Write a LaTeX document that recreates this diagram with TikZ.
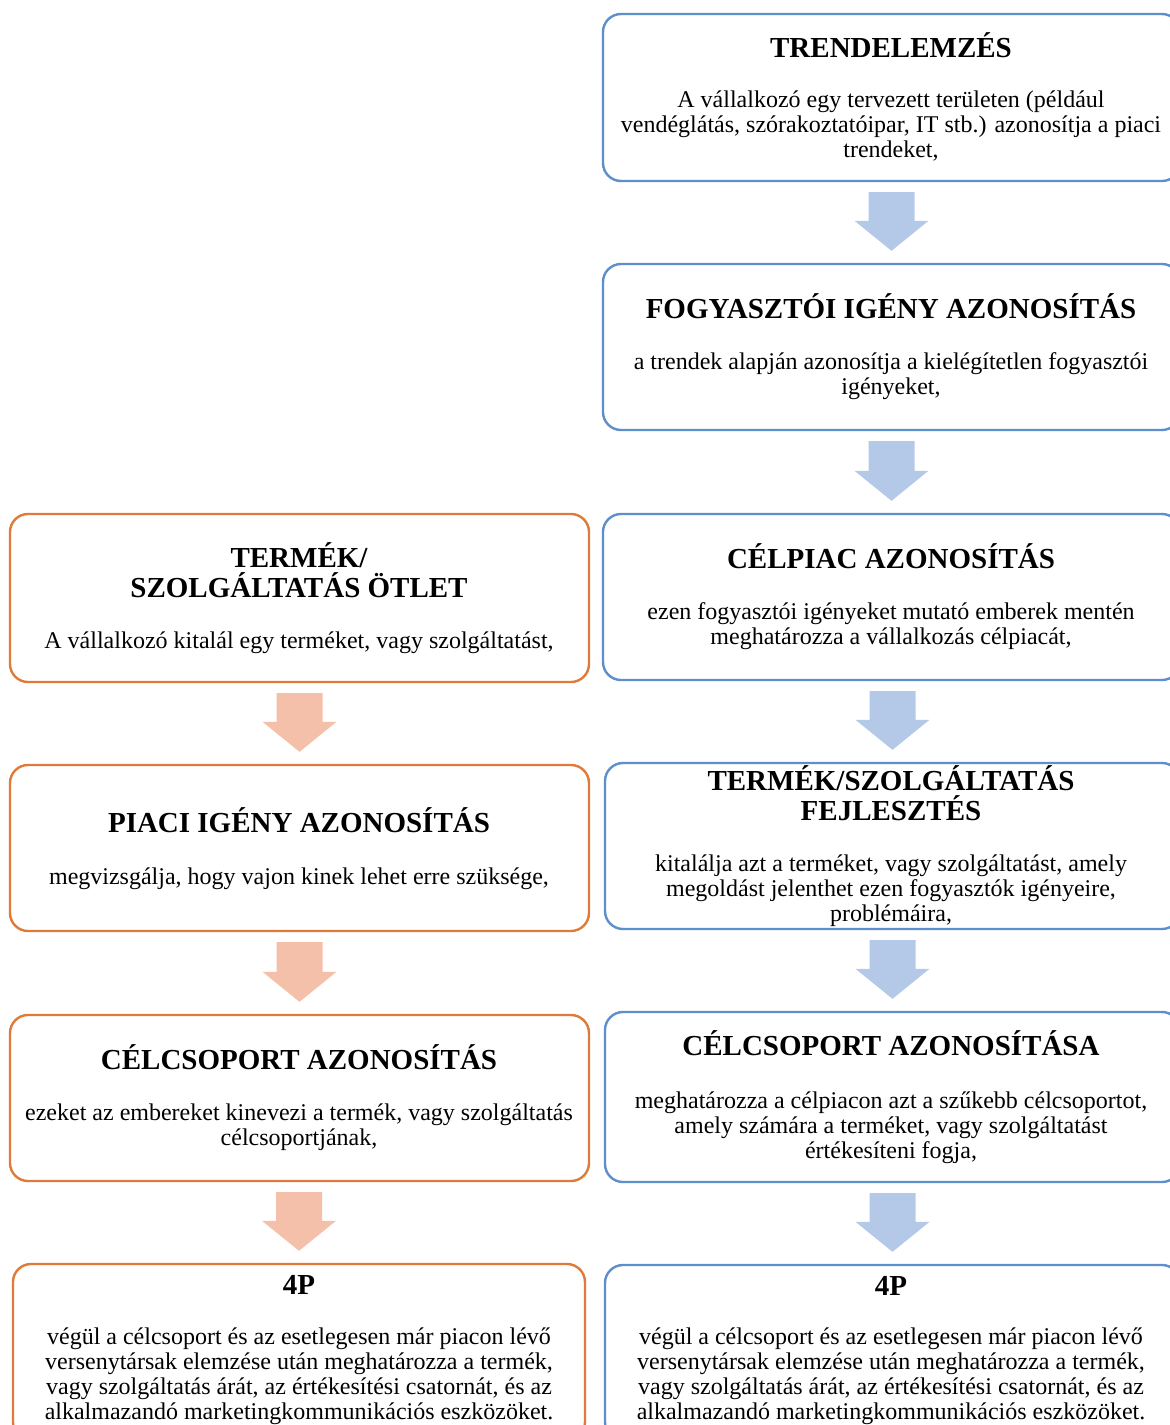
\documentclass[tikz,border=0pt]{standalone}
\usepackage{fontspec}
\setmainfont{Liberation Serif}
\usetikzlibrary{calc}

\definecolor{bluebd}{HTML}{5F8FCA}
\definecolor{orangebd}{HTML}{E07A38}
\definecolor{bluefill}{HTML}{B4C8E8}
\definecolor{orangefill}{HTML}{F5C0AA}

% block arrow from the bottom of one box to the top of the next
\newcommand\blockarr[3]{%
  \fill[#3] let \p1=(#1.south), \p2=(#2.north) in
    (\x2-23pt,\y1-10pt) -- (\x2+23pt,\y1-10pt) -- (\x2+23pt,\y2+42pt)
    -- (\x2+37pt,\y2+42pt) -- (\x2,\y2+12pt) -- (\x2-37pt,\y2+42pt)
    -- (\x2-23pt,\y2+42pt) -- cycle;}

\begin{document}
\begin{tikzpicture}[x=1pt,y=-1pt,
  box/.style={line width=2.4pt, rounded corners=18pt, inner sep=0pt},
  bluebox/.style={box, draw=bluebd},
  orangebox/.style={box, draw=orangebd},
  % anchor=base sits on the baseline of the last line
  ttl/.style={font=\fontsize{29}{30}\selectfont\bfseries, align=center, inner sep=0pt, anchor=base},
  bdy/.style={font=\fontsize{24}{25}\selectfont, align=center, inner sep=0pt, anchor=base},
]
\clip (0,0) rectangle (1170,1425);
\fill[white] (0,0) rectangle (1170,1425);

% right column
\node[bluebox, minimum width=577pt, minimum height=167pt] (r1) at (891.5,97.5) {};
\node[bluebox, minimum width=577pt, minimum height=166pt] (r2) at (891.5,347) {};
\node[bluebox, minimum width=577pt, minimum height=166pt] (r3) at (891.5,597) {};
\node[bluebox, minimum width=575pt, minimum height=166pt] (r4) at (892.5,846) {};
\node[bluebox, minimum width=575pt, minimum height=170pt] (r5) at (892.5,1097) {};
\node[bluebox, minimum width=575pt, minimum height=175pt] (r6) at (892.5,1352.5) {};

% left column
\node[orangebox, minimum width=579pt, minimum height=168pt] (l1) at (299.5,598) {};
\node[orangebox, minimum width=579pt, minimum height=166pt] (l2) at (299.5,848) {};
\node[orangebox, minimum width=579pt, minimum height=166pt] (l3) at (299.5,1098) {};
\node[orangebox, minimum width=572pt, minimum height=176pt] (l4) at (299,1352) {};

% texts, right column
\node[ttl] (r1t) at (891,57.5) {TRENDELEMZÉS};
\node[bdy] (r1b) at (891,157.5) {A vállalkozó egy tervezett területen (például\\vendéglátás, szórakoztatóipar, IT stb.) azonosítja a piaci\\trendeket,};
\node[ttl] (r2t) at (891,318.5) {FOGYASZTÓI IGÉNY AZONOSÍTÁS};
\node[bdy] (r2b) at (891,394.5) {a trendek alapján azonosítja a kielégítetlen fogyasztói\\igényeket,};
\node[ttl] (r3t) at (891,568.5) {CÉLPIAC AZONOSÍTÁS};
\node[bdy] (r3b) at (891,644.5) {ezen fogyasztói igényeket mutató emberek mentén\\meghatározza a vállalkozás célpiacát,};
\node[ttl] (r4t) at (891,820.5) {TERMÉK/SZOLGÁLTATÁS\\FEJLESZTÉS};
\node[bdy] (r4b) at (891,921.5) {kitalálja azt a terméket, vagy szolgáltatást, amely\\megoldást jelenthet ezen fogyasztók igényeire,\\problémáira,};
\node[ttl] (r5t) at (891,1055.5) {CÉLCSOPORT AZONOSÍTÁSA};
\node[bdy] (r5b) at (891,1158.5) {meghatározza a célpiacon azt a szűkebb célcsoportot,\\amely számára a terméket, vagy szolgáltatást\\értékesíteni fogja,};
\node[ttl] (r6t) at (891,1295.5) {4P};
\node[bdy] (r6b) at (891,1419) {végül a célcsoport és az esetlegesen már piacon lévő\\versenytársak elemzése után meghatározza a termék,\\vagy szolgáltatás árát, az értékesítési csatornát, és az\\alkalmazandó marketingkommunikációs eszközöket.};

% texts, left column
\node[ttl] (l1t) at (299,597.5) {TERMÉK/\\SZOLGÁLTATÁS ÖTLET};
\node[bdy] (l1b) at (299,648.5) {A vállalkozó kitalál egy terméket, vagy szolgáltatást,};
\node[ttl] (l2t) at (299,832.5) {PIACI IGÉNY AZONOSÍTÁS};
\node[bdy] (l2b) at (299,884.5) {megvizsgálja, hogy vajon kinek lehet erre szüksége,};
\node[ttl] (l3t) at (299,1069.5) {CÉLCSOPORT AZONOSÍTÁS};
\node[bdy] (l3b) at (299,1145.5) {ezeket az embereket kinevezi a termék, vagy szolgáltatás\\célcsoportjának,};
\node[ttl] (l4t) at (299,1294.5) {4P};
\node[bdy] (l4b) at (299,1419) {végül a célcsoport és az esetlegesen már piacon lévő\\versenytársak elemzése után meghatározza a termék,\\vagy szolgáltatás árát, az értékesítési csatornát, és az\\alkalmazandó marketingkommunikációs eszközöket.};

% connectors
\blockarr{r1}{r2}{bluefill}
\blockarr{r2}{r3}{bluefill}
\blockarr{r3}{r4}{bluefill}
\blockarr{r4}{r5}{bluefill}
\blockarr{r5}{r6}{bluefill}
\blockarr{l1}{l2}{orangefill}
\blockarr{l2}{l3}{orangefill}
\blockarr{l3}{l4}{orangefill}
\end{tikzpicture}
\end{document}
